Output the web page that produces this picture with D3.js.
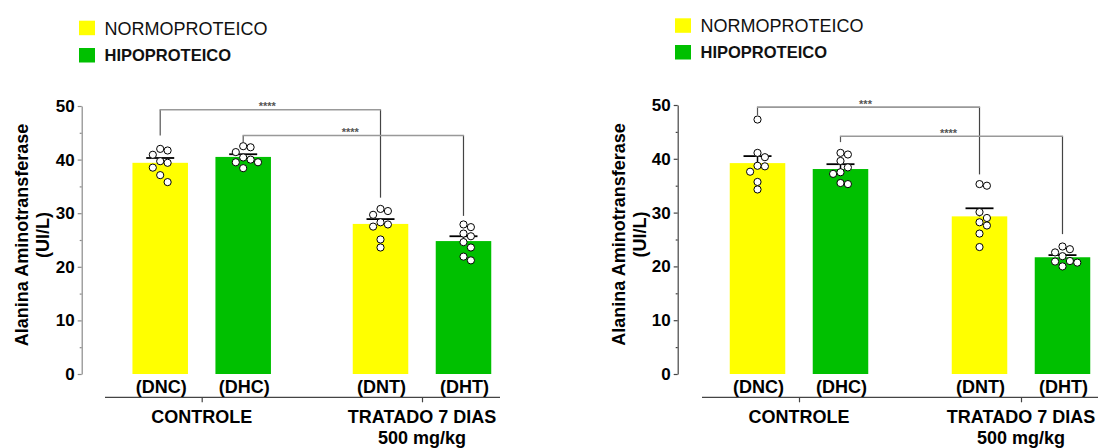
<!DOCTYPE html>
<html><head><meta charset="utf-8">
<script src="https://cdn.jsdelivr.net/npm/d3@7"></script>
<style>body{margin:0;background:#fff}svg{display:block;font-family:"Liberation Sans",Arial,sans-serif}</style>
</head><body><svg id="c" width="1105" height="448"></svg>
<script>
// ---------- data ----------
const groups = ["CONTROLE", "TRATADO 7 DIAS"];
const groupSub = ["", "500 mg/kg"];
const diets = ["NORMOPROTEICO", "HIPOPROTEICO"];
const barCodes = ["(DNC)", "(DHC)", "(DNT)", "(DHT)"];
const yTicks = [0, 10, 20, 30, 40, 50];
const yMinor = [5, 15, 25, 35, 45];
const yLabel1 = "Alanina Aminotransferase";
const yLabel2 = "(UI/L)";

const meansA = [39.4, 40.5, 28.0, 24.8];
const semA = [0.9, 0.5, 0.9, 0.9];
const pointsA = [
  [42.0, 41.7, 40.9, 39.7, 39.4, 38.5, 37.1, 35.8],
  [42.5, 42.3, 41.4, 40.4, 40.0, 39.5, 39.5, 38.4],
  [30.8, 30.4, 29.7, 28.3, 27.9, 27.5, 25.1, 23.6],
  [27.9, 27.4, 26.2, 25.7, 24.6, 23.6, 21.9, 21.2]
];
const bracketsA = [
  {from: 0, to: 2, label: "****", level: 49.3, yFrom: 44.5, yTo: 32.9},
  {from: 1, to: 3, label: "****", level: 44.5, yFrom: 43.3, yTo: 29.5}
];

const meansB = [39.2, 38.1, 29.3, 21.7];
const semB = [1.3, 0.9, 1.5, 0.4];
const pointsB = [
  [47.3, 41.1, 40.3, 38.7, 38.6, 37.6, 35.7, 34.3],
  [41.1, 40.8, 39.6, 38.4, 37.5, 37.2, 35.5, 35.3],
  [35.3, 35.0, 30.1, 29.0, 28.2, 27.6, 26.1, 23.6],
  [23.7, 23.2, 22.6, 21.9, 21.0, 20.9, 20.7, 20.0]
];
const bracketsB = [
  {from: 0, to: 2, label: "***", level: 49.6, yFrom: 48.1, yTo: 37.1},
  {from: 1, to: 3, label: "****", level: 44.2, yFrom: 43.1, yTo: 26.0}
];

// ---------- style ----------
const colors = {"NORMOPROTEICO": "#ffff00", "HIPOPROTEICO": "#00c000"};
const svg = d3.select("#c");

const panels = [
  {ax: 81.7, y0: 374, y50: 106, groupX: [201.7, 422], xLine: [105, 500], legX: 79, legY: [20.7, 48],
   ylx: [22, 43], axisColor: "#8a8a8a", means: meansA, sems: semA, points: pointsA, brackets: bracketsA},
  {ax: 677.7, y0: 374, y50: 105, groupX: [799, 1021], xLine: [702, 1098], legX: 675, legY: [18.3, 45],
   ylx: [619, 640], axisColor: "#444", means: meansB, sems: semB, points: pointsB, brackets: bracketsB}
];

function swarm(vals, y, r, step) {
  const placed = [];
  const order = vals.map((v, i) => i).sort((a, b) => vals[b] - vals[a]);
  const out = new Array(vals.length);
  const cands = [0, 1, -1, 2, -2, 3, -3];
  order.forEach(i => {
    const py = y(vals[i]);
    for (const k of cands) {
      const px = k * step;
      if (placed.every(p => Math.hypot(p.x - px, p.y - py) >= 2 * r - 0.2)) {
        placed.push({x: px, y: py}); out[i] = px; break;
      }
    }
  });
  return out;
}

panels.forEach(cfg => {
  const g = svg.append("g");
  const y = d3.scaleLinear().domain([0, 50]).range([cfg.y0, cfg.y50]);
  const xg = d3.scalePoint().domain(groups).range(cfg.groupX);
  const xi = d3.scaleBand().domain(diets).range([-69.25, 69.25]).paddingInner(0.331).paddingOuter(0);
  const bars = barCodes.map((code, i) => ({
    code, group: groups[Math.floor(i / 2)], diet: diets[i % 2],
    mean: cfg.means[i], sem: cfg.sems[i], pts: cfg.points[i]
  }));
  const cx = d => xg(d.group) + xi(d.diet) + xi.bandwidth() / 2;

  // legend
  diets.forEach((dname, i) => {
    const ly = cfg.legY[i];
    g.append("rect").attr("x", cfg.legX).attr("y", ly).attr("width", 16).attr("height", 14.5)
      .attr("fill", colors[dname]);
    g.append("text").attr("x", cfg.legX + 25.5).attr("y", ly + 7.5).attr("dy", "0.35em")
      .attr("font-size", i === 0 ? 18 : 16.5).attr("font-weight", i === 0 ? "normal" : "bold")
      .attr("fill", "#111").text(dname);
  });

  // y axis
  const ya = g.append("g").attr("transform", `translate(${cfg.ax},0)`)
    .call(d3.axisLeft(y).tickValues(yTicks).tickSize(4).tickSizeOuter(0).tickPadding(3).tickFormat(d3.format("d")));
  ya.select(".domain").attr("stroke", cfg.axisColor).attr("stroke-width", 1.2);
  ya.selectAll(".tick line").attr("stroke", cfg.axisColor).attr("stroke-width", 1.2);
  ya.selectAll(".tick text").attr("font-size", 17).attr("font-weight", "bold").attr("fill", "#000")
    .attr("font-family", "Liberation Sans, Arial, sans-serif");
  const ym = g.append("g").attr("transform", `translate(${cfg.ax},0)`)
    .call(d3.axisLeft(y).tickValues(yMinor).tickSize(2).tickFormat(""));
  ym.select(".domain").remove();
  ym.selectAll(".tick line").attr("stroke", cfg.axisColor).attr("stroke-width", 1.2);

  // y label
  const ymid = (cfg.y0 + cfg.y50) / 2 + -5;
  [yLabel1, yLabel2].forEach((t, i) => {
    g.append("text").attr("transform", `translate(${cfg.ylx[i]},${ymid}) rotate(-90)`)
      .attr("text-anchor", "middle").attr("dy", "0.35em")
      .attr("font-size", 18).attr("font-weight", "bold").attr("fill", "#000").text(t);
  });

  // x axis
  const xLineY = 397.3;
  g.append("line").attr("x1", cfg.xLine[0]).attr("x2", cfg.xLine[1]).attr("y1", xLineY).attr("y2", xLineY)
    .attr("stroke", "#444").attr("stroke-width", 1.2);
  const xa = g.append("g").attr("transform", `translate(0,${xLineY})`)
    .call(d3.axisBottom(xg).tickSize(5).tickSizeOuter(0).tickFormat(""));
  xa.select(".domain").remove();
  xa.selectAll(".tick line").attr("stroke", "#444").attr("stroke-width", 1.2);
  groups.forEach((gr, i) => {
    g.append("text").attr("x", xg(gr)).attr("y", 422.7).attr("text-anchor", "middle")
      .attr("font-size", 18).attr("font-weight", "bold").text(gr);
    if (groupSub[i]) g.append("text").attr("x", xg(gr)).attr("y", 444.3).attr("text-anchor", "middle")
      .attr("font-size", 18).attr("font-weight", "bold").text(groupSub[i]);
  });

  // bars
  g.selectAll("rect.bar").data(bars).join("rect").attr("class", "bar")
    .attr("x", d => cx(d) - xi.bandwidth() / 2).attr("width", xi.bandwidth())
    .attr("y", d => y(d.mean)).attr("height", d => y(0) - y(d.mean))
    .attr("fill", d => colors[d.diet]);

  // bar codes
  g.selectAll("text.code").data(bars).join("text").attr("class", "code")
    .attr("x", d => cx(d) + 1).attr("y", 393).attr("text-anchor", "middle")
    .attr("font-size", 18).attr("font-weight", "bold").text(d => d.code);

  // error bars
  bars.forEach(d => {
    const x = cx(d), yt = y(d.mean + d.sem);
    g.append("line").attr("x1", x).attr("x2", x).attr("y1", y(d.mean)).attr("y2", yt)
      .attr("stroke", "#000").attr("stroke-width", 1.5);
    g.append("line").attr("x1", x - 14).attr("x2", x + 14).attr("y1", yt).attr("y2", yt)
      .attr("stroke", "#000").attr("stroke-width", 1.8);
  });

  // points
  bars.forEach(d => {
    const offs = swarm(d.pts, y, 3.8, 7.4);
    g.selectAll(null).data(d.pts).join("circle")
      .attr("cx", (v, i) => cx(d) + offs[i]).attr("cy", v => y(v)).attr("r", 3.6)
      .attr("fill", "#fff").attr("stroke", "#000").attr("stroke-width", 1);
  });

  // brackets
  cfg.brackets.forEach(b => {
    const x1 = cx(bars[b.from]), x2 = cx(bars[b.to]);
    const yl = y(b.level);
    g.append("line").attr("x1", x1).attr("x2", x1).attr("y1", y(b.yFrom)).attr("y2", yl)
      .attr("stroke", "#555").attr("stroke-width", 1.2);
    g.append("line").attr("x1", x2).attr("x2", x2).attr("y1", yl).attr("y2", y(b.yTo))
      .attr("stroke", "#444").attr("stroke-width", 1.2);
    g.append("line").attr("x1", x1 - 0.6).attr("x2", x2 + 0.6).attr("y1", yl).attr("y2", yl)
      .attr("stroke", "#999").attr("stroke-width", 1.6);
    g.append("text").attr("x", (x1 + x2) / 2 - 3).attr("y", yl + 0.5).attr("text-anchor", "middle")
      .attr("font-size", 11).attr("font-weight", "bold").attr("fill", "#555").text(b.label);
  });
});
</script></body></html>
